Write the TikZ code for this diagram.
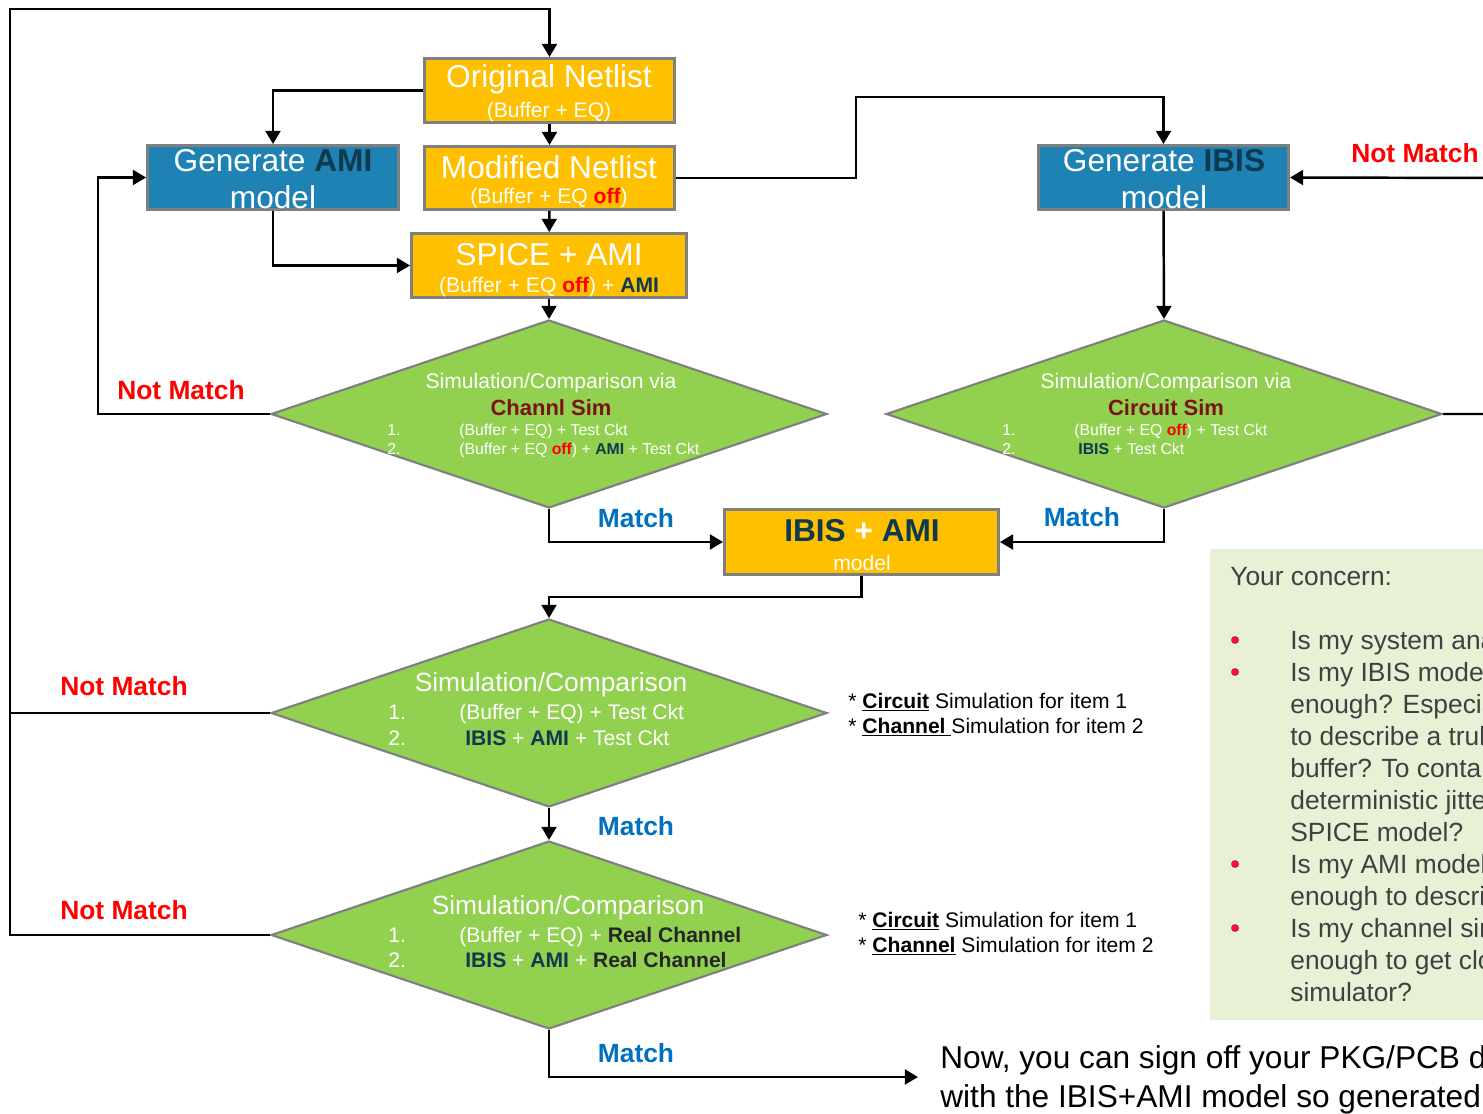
\documentclass[tikz,border=0pt]{standalone}
\usepackage{fontspec}
\setmainfont{Liberation Sans}
\usetikzlibrary{arrows.meta,shapes.geometric}

\definecolor{boxorange}{HTML}{FFC000}
\definecolor{boxblue}{HTML}{1F82B4}
\definecolor{edgegray}{HTML}{7F7F7F}
\definecolor{navy}{HTML}{0E3A50}
\definecolor{leaf}{HTML}{92D050}
\definecolor{wine}{HTML}{7A1414}
\definecolor{matchblue}{HTML}{0070C0}
\definecolor{notered}{HTML}{FF0000}
\definecolor{notebg}{HTML}{E8F0D6}
\definecolor{notetext}{HTML}{404040}
\definecolor{bulletred}{HTML}{E31937}
\definecolor{darktext}{HTML}{262626}

\newcommand{\fsz}[2]{\fontsize{#1}{#2}\selectfont}
\newcommand{\eqoff}{{\color{notered}\bfseries off}}
\newcommand{\bnavy}[1]{{\color{navy}\bfseries #1}}
\newcommand{\bdark}[1]{{\color{darktext}\bfseries #1}}

\tikzset{
  x=0.02cm, y=-0.02cm,
  procbox/.style={draw=edgegray, line width=1.7pt, fill=boxorange, inner sep=0},
  genbox/.style={draw=edgegray, line width=1.7pt, fill=boxblue, inner sep=0},
  decision/.style={diamond, draw=edgegray, line width=1.2pt, fill=leaf, inner sep=0,
                   minimum width=11.12cm, minimum height=3.76cm},
  flow/.style={line width=1.4pt, -{Triangle[length=7.5pt,width=8.5pt]}},
  wire/.style={line width=1.4pt},
  txt/.style={inner sep=0, text=white},
  bigtxt/.style={txt, font=\fsz{18}{21}},
  subtxt/.style={txt, font=\fsz{12}{14}},
  smalltxt/.style={txt, anchor=base west, font=\fsz{9}{11}},
  midtxt/.style={txt, font=\fsz{12}{14}},
  itemtxt/.style={txt, anchor=base west, font=\fsz{12}{14}},
  headtxt/.style={txt, font=\fsz{15}{18}},
  nomatch/.style={inner sep=0, text=notered, font=\fsz{15}{18}\bfseries},
  yesmatch/.style={inner sep=0, text=matchblue, font=\fsz{15}{18}\bfseries},
  remark/.style={inner sep=0, anchor=base west, text=black, font=\fsz{12}{14}},
  concern/.style={inner sep=0, anchor=base west, text=notetext, font=\fsz{15}{18}},
  dot/.style={circle, fill=bulletred, inner sep=0, minimum size=4.5pt},
}

\begin{document}
\begin{tikzpicture}
\useasboundingbox (0,0) rectangle (1483,1114);
\clip (0,0) rectangle (1483,1114);

% ---------- boxes ----------
\node[procbox, minimum width=5.0cm, minimum height=1.28cm] (onet) at (549.5,90.5) {};
\node[procbox, minimum width=5.0cm, minimum height=1.26cm] (mnet) at (549.5,178) {};
\node[procbox, minimum width=5.5cm, minimum height=1.28cm] (spice) at (549,265.5) {};
\node[genbox, minimum width=5.02cm, minimum height=1.28cm] (gami) at (273,177.5) {};
\node[genbox, minimum width=5.0cm, minimum height=1.28cm] (gibis) at (1163.5,177.5) {};
\node[procbox, minimum width=5.48cm, minimum height=1.3cm] (ia) at (861.5,542) {};

% ---------- decisions ----------
\node[decision] (d1) at (549,414) {};
\node[decision] (d2) at (1164,414) {};
\node[decision] (d3) at (549,713) {};
\node[decision] (d4) at (549,935) {};

% ---------- concern panel ----------
\fill[notebg] (1210,549) rectangle (1500,1020);
\node[concern] (c0) at (1230,585) {Your concern:};
\node[dot] (b1) at (1235,640) {};
\node[dot] (b2) at (1235,672) {};
\node[dot] (b3) at (1235,864) {};
\node[dot] (b4) at (1235,928) {};
\node[concern] (c1) at (1290,649) {Is my system analysis right?};
\node[concern] (c2) at (1290,681) {Is my IBIS model accurate};
\node[concern] (c3) at (1290,713) {enough? Especially, is it enough};
\node[concern] (c4) at (1290,745) {to describe a truly nonlinear};
\node[concern] (c5) at (1290,777) {buffer? To contain the};
\node[concern] (c6) at (1290,809) {deterministic jitter as in the};
\node[concern] (c7) at (1290,841) {SPICE model?};
\node[concern] (c8) at (1290,873) {Is my AMI model accurate};
\node[concern] (c9) at (1290,905) {enough to describe the EQ?};
\node[concern] (c10) at (1290,937) {Is my channel simulator accurate};
\node[concern] (c11) at (1290,969) {enough to get close to a circuit};
\node[concern] (c12) at (1290,1001) {simulator?};

% ---------- box texts ----------
\node[bigtxt] (t-onet) at (549,79) {Original Netlist};
\node[subtxt] (s-onet) at (549,112) {(Buffer + EQ)};
\node[bigtxt] (t-mnet) at (549,167) {Modified Netlist};
\node[subtxt] (s-mnet) at (549,198) {(Buffer + EQ \eqoff)};
\node[bigtxt] (t-spice) at (549,255) {SPICE + AMI};
\node[subtxt] (s-spice) at (549,287) {(Buffer + EQ \eqoff) + \bnavy{AMI}};
\node[bigtxt] (t-gami) at (273,161) {Generate \bnavy{AMI}};
\node[bigtxt] (s-gami) at (273,197) {model};
\node[bigtxt] (t-gibis) at (1164,161) {Generate \bnavy{IBIS}};
\node[bigtxt] (s-gibis) at (1164,197) {model};
\node[bigtxt, font=\fsz{18}{21}\bfseries] (t-ia) at (862,531) {\bnavy{IBIS} + \bnavy{AMI}};
\node[subtxt] (s-ia) at (862,563) {model};

% ---------- decision texts ----------
\node[midtxt] (h1) at (551,383) {Simulation/Comparison via};
\node[inner sep=0, text=wine, font=\fsz{12.5}{15}\bfseries] (k1) at (551,408) {Channl Sim};
\node[smalltxt] (n11) at (387,436) {1.};
\node[smalltxt] (i11) at (459,436) {(Buffer + EQ) + Test Ckt};
\node[smalltxt] (n12) at (387,455) {2.};
\node[smalltxt] (i12) at (459,455) {(Buffer + EQ \eqoff) + \bnavy{AMI} + Test Ckt};

\node[midtxt] (h2) at (1166,383) {Simulation/Comparison via};
\node[inner sep=0, text=wine, font=\fsz{12.5}{15}\bfseries] (k2) at (1166,408) {Circuit Sim};
\node[smalltxt] (n21) at (1002,436) {1.};
\node[smalltxt] (i21) at (1074,436) {(Buffer + EQ \eqoff) + Test Ckt};
\node[smalltxt] (n22) at (1002,455) {2.};
\node[smalltxt] (i22) at (1078,455) {\bnavy{IBIS} + Test Ckt};

\node[headtxt] (h3) at (551,685) {Simulation/Comparison};
\node[itemtxt] (n31) at (388,719) {1.};
\node[itemtxt] (i31) at (459,719) {(Buffer + EQ) + Test Ckt};
\node[itemtxt] (n32) at (388,745) {2.};
\node[itemtxt] (i32) at (465,745) {\bnavy{IBIS} + \bnavy{AMI} + Test Ckt};

\node[headtxt] (h4) at (568,908) {Simulation/Comparison};
\node[itemtxt] (n41) at (388,942) {1.};
\node[itemtxt] (i41) at (459,942) {(Buffer + EQ) + \bdark{Real Channel}};
\node[itemtxt] (n42) at (388,967) {2.};
\node[itemtxt] (i42) at (465,967) {\bnavy{IBIS} + \bnavy{AMI} + \bdark{Real Channel}};

% ---------- remarks ----------
\node[remark] (r1) at (848,708) {* \underline{\textbf{Circuit}} Simulation for item 1};
\node[remark] (r2) at (848,733) {* \underline{\textbf{Channel}\ }Simulation for item 2};
\node[remark] (r3) at (858,927) {* \underline{\textbf{Circuit}} Simulation for item 1};
\node[remark] (r4) at (858,952) {* \underline{\textbf{Channel}} Simulation for item 2};

% ---------- connectors ----------
\draw[flow] (onet) -- (mnet);
\draw[flow] (mnet) -- (spice);
\draw[flow] (spice) -- (d1.north);
\draw[flow] (onet.west) -| (gami.north);
\draw[flow] (gami.south) |- (spice.west);
\draw[flow] (d1.west) -- (98,414) |- (gami.west);
\draw[flow] (mnet.east) -- (856,178) -- (856,97) -| (gibis.north);
\draw[flow] (gibis.south) -- (d2.north);
\draw[flow] (d2.east) -- (1500,414) -- (1500,178) -- (gibis.east);
\draw[flow] (d1.south) |- (ia.west);
\draw[flow] (d2.south) |- (ia.east);
\draw[flow] (ia.south) -- ++(0,21) -| (d3.north);
\draw[flow] (d3.south) -- (d4.north);
\draw[wire] (d3.west) -- (10,713);
\draw[flow] (d4.west) -- (10,935) -- (10,9) -| (onet.north);
\coordinate (signoff) at (918,1077);
\draw[flow] (d4.south) |- (signoff);

% ---------- connector labels ----------
\node[nomatch] (nm1) at (181,390) {Not Match};
\node[nomatch] (nm2) at (1415,153) {Not Match};
\node[nomatch] (nm3) at (124,686) {Not Match};
\node[nomatch] (nm4) at (124,910) {Not Match};
\node[yesmatch] (m1) at (636,518) {Match};
\node[yesmatch] (m2) at (1082,517) {Match};
\node[yesmatch] (m3) at (636,826) {Match};
\node[yesmatch] (m4) at (636,1053) {Match};

% ---------- closing note ----------
\node[inner sep=0, anchor=base west, font=\fsz{18}{22}] (f1) at (940,1068) {Now, you can sign off your PKG/PCB design};
\node[inner sep=0, anchor=base west, font=\fsz{18}{22}] (f2) at (940,1107) {with the IBIS+AMI model so generated.};
\end{tikzpicture}
\end{document}
